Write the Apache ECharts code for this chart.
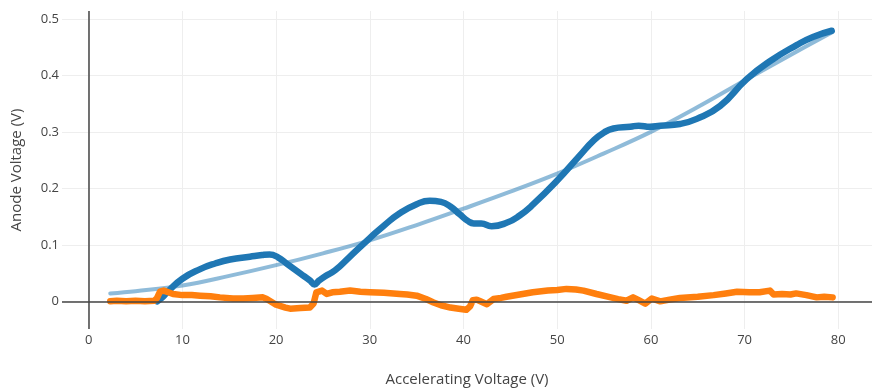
<!DOCTYPE html>
<html>
<head>
<meta charset="utf-8">
<script src="https://cdn.jsdelivr.net/npm/echarts@6/dist/echarts.min.js"></script>
<style>
  html, body { margin: 0; padding: 0; background: #fff; }
  #chart { width: 872px; height: 392px; }
</style>
</head>
<body>
<div id="chart"></div>
<script>
// Tick positions
const xTicks = [0, 10, 20, 30, 40, 50, 60, 70, 80];
const yTicks = [0, 0.1, 0.2, 0.3, 0.4, 0.5];

// Measured anode voltage vs accelerating voltage
const measuredX = [7.3, 7.8, 8.5, 10, 11.9, 13.5, 15.1, 17.2, 18.5, 19.3, 20.2, 21.2, 22.6, 23.6, 24.1, 24.6, 25.2, 26.3, 27.8, 30, 31.5, 33.2, 35, 36.4, 37.6, 38.6, 39.6, 40.5, 41.1, 41.9, 43.0, 44.6, 46, 47.4, 49.9, 52.4, 53.9, 55, 56.0, 57.8, 58.7, 59.9, 61, 63.1, 64.9, 67.4, 70.2, 72.7, 75.6, 77.3, 79.3];
const measuredY = [0.000, 0.006, 0.018, 0.040, 0.057, 0.067, 0.074, 0.079, 0.082, 0.083, 0.078, 0.066, 0.049, 0.037, 0.030, 0.037, 0.044, 0.055, 0.078, 0.112, 0.134, 0.156, 0.172, 0.178, 0.176, 0.168, 0.154, 0.142, 0.138, 0.138, 0.133, 0.139, 0.152, 0.171, 0.212, 0.258, 0.285, 0.299, 0.306, 0.309, 0.311, 0.309, 0.311, 0.314, 0.323, 0.346, 0.393, 0.425, 0.454, 0.468, 0.479];

// Background fit
const fitX = [2.3, 5, 10, 15, 20, 25, 30, 35, 40, 45, 50, 55, 60, 65, 70, 75, 79.3];
const fitY = [0.014, 0.018, 0.028, 0.045, 0.064, 0.085, 0.108, 0.135, 0.164, 0.194, 0.226, 0.262, 0.300, 0.344, 0.391, 0.437, 0.476];

// Residual (measured minus fit)
const residualX = [2.3, 3, 4, 5, 6, 7.0, 7.3, 7.6, 8.0, 8.5, 9, 10, 11, 11.9, 13, 14, 15.4, 16.5, 17.5, 18.6, 19.0, 20, 21, 21.5, 22.6, 23.6, 24.0, 24.3, 24.9, 25.4, 26, 26.8, 27.9, 29, 30, 31.5, 33.2, 34, 35, 36, 36.8, 37.6, 38.6, 39.5, 40.3, 40.7, 41.0, 41.4, 41.8, 42.5, 43.2, 44, 44.6, 46, 47.4, 49, 50, 51.0, 52, 52.8, 54.2, 55.5, 56.5, 57.4, 58.1, 58.7, 59.4, 60.1, 61.0, 62, 63.1, 65, 66.7, 68, 69.2, 70.5, 71.6, 72.7, 73.1, 74, 74.9, 75.5, 76.6, 77.7, 78.5, 79.4];
const residualY = [0, 0.001, 0, 0.001, 0, 0.001, 0.006, 0.017, 0.019, 0.016, 0.013, 0.011, 0.011, 0.010, 0.009, 0.007, 0.005, 0.005, 0.006, 0.007, 0.004, -0.006, -0.011, -0.013, -0.012, -0.011, -0.004, 0.016, 0.019, 0.013, 0.016, 0.017, 0.019, 0.017, 0.016, 0.015, 0.013, 0.012, 0.010, 0.004, -0.002, -0.007, -0.011, -0.013, -0.015, -0.009, 0.002, 0.003, 0.000, -0.005, 0.004, 0.006, 0.008, 0.012, 0.016, 0.019, 0.020, 0.022, 0.021, 0.019, 0.013, 0.008, 0.004, 0.001, 0.007, 0.002, -0.004, 0.005, 0.000, 0.003, 0.006, 0.008, 0.011, 0.014, 0.017, 0.016, 0.016, 0.019, 0.012, 0.013, 0.012, 0.014, 0.011, 0.007, 0.008, 0.007];

const pairs = (xs, ys) => xs.map((x, i) => [x, ys[i]]);

const FONT = '"Open Sans", "Noto Sans", sans-serif';
const chart = echarts.init(document.getElementById('chart'), null, { renderer: 'canvas' });

chart.setOption({
  animation: false,
  backgroundColor: '#fff',
  grid: { left: 62, right: 0, top: 11, bottom: 60, containLabel: false },
  xAxis: {
    type: 'value',
    min: -2.85,
    max: 83.6,
    name: 'Accelerating Voltage (V)',
    nameLocation: 'middle',
    nameGap: 43,
    nameTextStyle: { fontFamily: FONT, fontSize: 15, color: '#444' },
    axisLine: { show: false },
    axisTick: { show: false, customValues: xTicks },
    axisLabel: { customValues: xTicks, fontFamily: FONT, fontSize: 13, color: '#444', margin: 5 },
    splitLine: { show: true, lineStyle: { color: '#eeeeee', width: 1 } }
  },
  yAxis: {
    type: 'value',
    min: -0.049,
    max: 0.514,
    name: 'Anode Voltage (V)',
    nameLocation: 'middle',
    nameGap: 38,
    nameTextStyle: { fontFamily: FONT, fontSize: 15, color: '#444' },
    axisLine: { show: false },
    axisTick: { show: false, customValues: yTicks },
    axisLabel: { customValues: yTicks, fontFamily: FONT, fontSize: 13, color: '#444', margin: 3 },
    splitLine: { show: true, lineStyle: { color: '#eeeeee', width: 1 } }
  },
  series: [
    {
      // zero lines for both axes
      type: 'line',
      data: [],
      z: 1,
      markLine: {
        silent: true,
        symbol: 'none',
        label: { show: false },
        lineStyle: { color: '#444', width: 1.5, type: 'solid' },
        data: [{ xAxis: 0 }, { yAxis: 0 }]
      }
    },
    {
      name: 'Fit',
      type: 'line',
      data: pairs(fitX, fitY),
      smooth: 0.4,
      showSymbol: false,
      z: 2,
      lineStyle: { color: 'rgba(31,119,180,0.5)', width: 4, cap: 'round', join: 'round' }
    },
    {
      name: 'Measured',
      type: 'line',
      data: pairs(measuredX, measuredY),
      smooth: 0.5,
      showSymbol: false,
      z: 3,
      lineStyle: { color: '#1f77b4', width: 6.5, cap: 'round', join: 'round' }
    },
    {
      name: 'Residual',
      type: 'line',
      data: pairs(residualX, residualY),
      showSymbol: false,
      z: 4,
      lineStyle: { color: '#ff7f0e', width: 6.5, cap: 'round', join: 'round' }
    }
  ]
});
</script>
</body>
</html>
